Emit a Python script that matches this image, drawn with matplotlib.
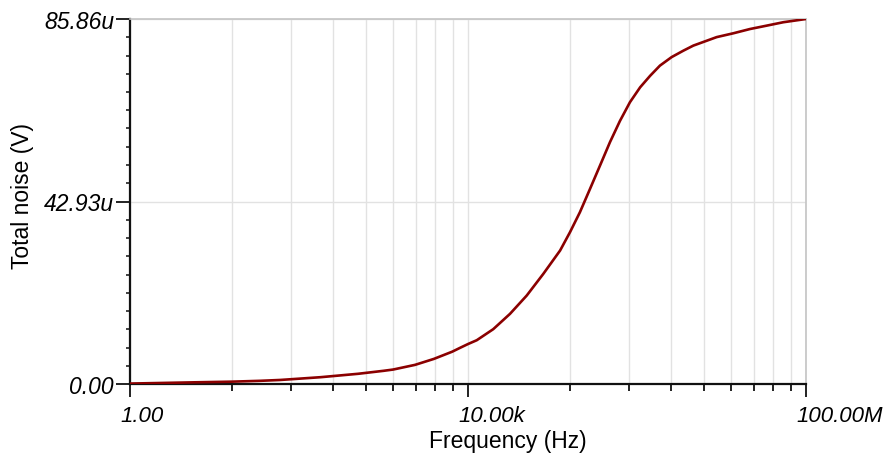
"""
Total noise versus frequency, redrawn from a circuit simulator plot
"""

import matplotlib
matplotlib.use("Agg")
import matplotlib.pyplot as plt
import matplotlib.transforms as mtransforms
from matplotlib.ticker import NullFormatter

plt.rcParams['font.family'] = ['Liberation Sans', 'DejaVu Sans']

# Frequency (Hz) and total noise (uV)
freq = [1, 6, 16, 35, 60, 100, 180, 300, 500, 1000, 1300, 2360, 3940,
        6500, 8040, 10e3, 12.7e3, 19.9e3, 31.4e3, 49.5e3, 77.8e3, 123e3,
        161e3, 211e3, 278e3, 380e3, 479e3, 629e3, 826e3, 1.09e6, 1.43e6,
        1.87e6, 2.57e6, 3.53e6, 4.64e6, 6.38e6, 8.77e6, 13.8e6, 21.7e6,
        34.3e6, 53.9e6, 100e6]
noise = [0.1, 0.4, 0.55, 0.75, 0.95, 1.25, 1.6, 2.0, 2.4, 3.1, 3.4, 4.5,
         5.9, 7.6, 8.5, 9.4, 10.3, 12.9, 16.5, 20.8, 25.9, 31.4,
         35.7, 40.4, 45.9, 52.2, 56.9, 61.9, 66.3, 69.8, 72.5,
         74.9, 76.9, 78.4, 79.6, 80.6, 81.6, 82.5, 83.5,
         84.3, 85.1, 85.86]

# Axis ticks as the simulator shows them
x_major = [1, 1e4, 1e8]
x_labels = ["1.00", "10.00k", "100.00M"]
y_major = [0, 42.93, 85.86]
y_labels = ["0.00", "42.93u", "85.86u"]

# Minor grid follows n^4 inside each 4-decade division
x_minor = [base * n ** 4 for base in (1, 1e4) for n in range(2, 10)]
y_minor = [85.86 / 20 * i for i in range(1, 20) if i != 10]

fig = plt.figure(figsize=(8.9, 4.64), dpi=100)
ax = fig.add_axes([130 / 890, 1 - 385 / 464, 676 / 890, 365 / 464])

ax.plot(freq, noise, color='#8b0000', linewidth=1.9, zorder=3)

ax.set_xscale('log')
ax.set_xlim(1, 1e8)
ax.set_ylim(0, 85.86)

ax.set_xticks(x_major)
ax.set_xticklabels(x_labels, fontsize=16, style='italic')
ax.set_xticks(x_minor, minor=True)
ax.xaxis.set_minor_formatter(NullFormatter())
ax.set_yticks(y_major)
ax.set_yticklabels(y_labels, fontsize=16.5, style='italic')
ax.set_yticks(y_minor, minor=True)

ax.tick_params(axis='x', which='major', length=9.5, width=1.4, pad=5.5,
               color='#222222')
ax.tick_params(axis='x', which='minor', length=5, width=1.4,
               color='#222222')
ax.tick_params(axis='y', which='major', length=10, width=1.4, pad=1.5,
               color='#222222')
ax.tick_params(axis='y', which='minor', length=3, width=1.2,
               color='#222222')

# Tick labels start just left of their tick
shift = mtransforms.ScaledTranslation(-10 / 100, 0, fig.dpi_scale_trans)
for label in ax.get_xticklabels():
    label.set_horizontalalignment('left')
    label.set_transform(label.get_transform() + shift)

ax.grid(axis='x', which='both', color='#e2e2e2', linewidth=1.0, zorder=0)
ax.grid(axis='y', which='major', color='#e2e2e2', linewidth=1.0, zorder=0)

for side in ('left', 'bottom'):
    ax.spines[side].set_color('#111111')
    ax.spines[side].set_linewidth(1.6)
for side in ('top', 'right'):
    ax.spines[side].set_color('#c4c4c4')
    ax.spines[side].set_linewidth(1.2)

xlab = ax.set_xlabel("Frequency (Hz)", fontsize=16.5, va='center')
ax.xaxis.set_label_coords(0.559, -0.155)
ylab = ax.set_ylabel("Total noise (V)", fontsize=16.5, va='center')
ax.yaxis.set_label_coords(-0.159, 0.518)

fig.savefig("out.png", dpi=100)
